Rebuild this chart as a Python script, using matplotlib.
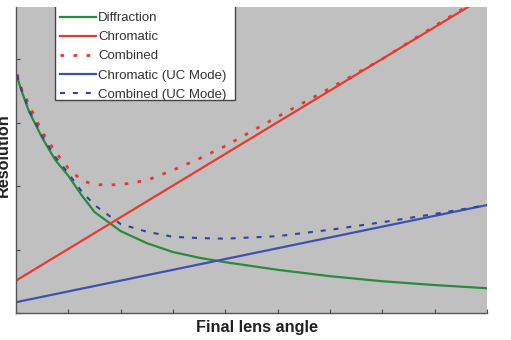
import matplotlib
matplotlib.use("Agg")
import matplotlib.pyplot as plt
from matplotlib.patches import Rectangle

plt.rcParams['font.family'] = ['Liberation Sans', 'DejaVu Sans']

# ---- data ----
x_curve = [0.02, 0.1, 0.25, 0.5, 0.75, 1.0, 1.25, 1.5, 2.0, 2.5, 3.0, 3.5, 4.0, 5.0, 6.0, 7.0, 8.0, 9.0]
diffraction = [3.72, 3.51, 3.17, 2.76, 2.41, 2.16, 1.86, 1.59, 1.29, 1.10, 0.96, 0.87, 0.80, 0.68, 0.58, 0.50, 0.44, 0.39]
combined = [3.76, 3.54, 3.28, 2.85, 2.54, 2.28, 2.09, 2.02, 2.02, 2.09, 2.25, 2.43, 2.63, 3.09, 3.54, 4.00, 4.52, 5.02]
combined_uc = [3.75, 3.53, 3.20, 2.79, 2.46, 2.20, 1.92, 1.70, 1.40, 1.28, 1.20, 1.18, 1.17, 1.21, 1.31, 1.43, 1.56, 1.70]

x_line = [0.0, 9.0]
chromatic = [0.51, 5.00]
chromatic_uc = [0.17, 1.70]

labels = ["Diffraction", "Chromatic", "Combined", "Chromatic (UC Mode)", "Combined (UC Mode)"]

# ---- figure ----
W, H = 511, 340
fig = plt.figure(figsize=(W / 100, H / 100), dpi=100)
fig.patch.set_facecolor('white')

ax_l, ax_r, ax_b, ax_t = 16, 487, 313, 7
ax = fig.add_axes([ax_l / W, 1 - ax_b / H, (ax_r - ax_l) / W, (ax_b - ax_t) / H])
ax.set_facecolor('#c0c0c0')

green = '#2b8a3e'
red = '#e83a30'
blue = '#3f51b0'
navy = '#34449a'

ax.plot(x_curve, diffraction, color=green, lw=1.6, label=labels[0])
ax.plot(x_line, chromatic, color=red, lw=1.6, label=labels[1])
ax.plot(x_curve, combined, color=red, lw=2.0, linestyle=(0, (1.3, 3.4)), label=labels[2])
ax.plot(x_line, chromatic_uc, color=blue, lw=1.6, label=labels[3])
ax.plot(x_curve, combined_uc, color=navy, lw=1.5, linestyle=(0, (2.4, 3.8)), label=labels[4])

ax.set_xlim(0, 9)
ax.set_ylim(0, (ax_b - ax_t) / 63.5)
ax.set_xticks(range(0, 10))
ax.set_yticks(range(0, 5))
ax.set_xticklabels([])
ax.set_yticklabels([])
ax.tick_params(direction='in', length=3, width=0.8, color='#444444')
for s in ['top', 'right']:
    ax.spines[s].set_visible(False)
for s in ['left', 'bottom']:
    ax.spines[s].set_color('#555555')
    ax.spines[s].set_linewidth(1.0)

# legend frame drawn by hand (its top is hidden by the white strip)
frame = Rectangle((55 / W, 1 - 99.5 / H), 180 / W, 101.5 / H, transform=fig.transFigure,
                  facecolor='white', edgecolor='#444444', lw=1.0, zorder=4.9, clip_on=False)
ax.add_artist(frame)

leg = ax.legend(loc='upper left', bbox_to_anchor=(55 / W, 1 - 6.7 / H),
                bbox_transform=fig.transFigure, borderaxespad=0,
                fontsize=9.5, handlelength=2.7, handletextpad=0.15,
                labelspacing=0.52, borderpad=0.4, frameon=False)
for t in leg.get_texts():
    t.set_color('#333333')

# white strip along the top edge, as in the reference
fig.add_artist(Rectangle((0, 1 - 7 / H), 1, 7 / H, transform=fig.transFigure,
                         facecolor='white', edgecolor='none', zorder=10))

fig.text(257 / W, 1 - 332 / H, 'Final lens angle', ha='center', va='baseline',
         fontsize=11.7, fontweight='bold', color='#222222')
fig.text(8 / W, 1 - 155 / H, 'Resolution', rotation=90, rotation_mode='anchor',
         ha='center', va='baseline', fontsize=11.7, fontweight='bold', color='#222222')

fig.savefig('out.png', dpi=100, facecolor='white')
